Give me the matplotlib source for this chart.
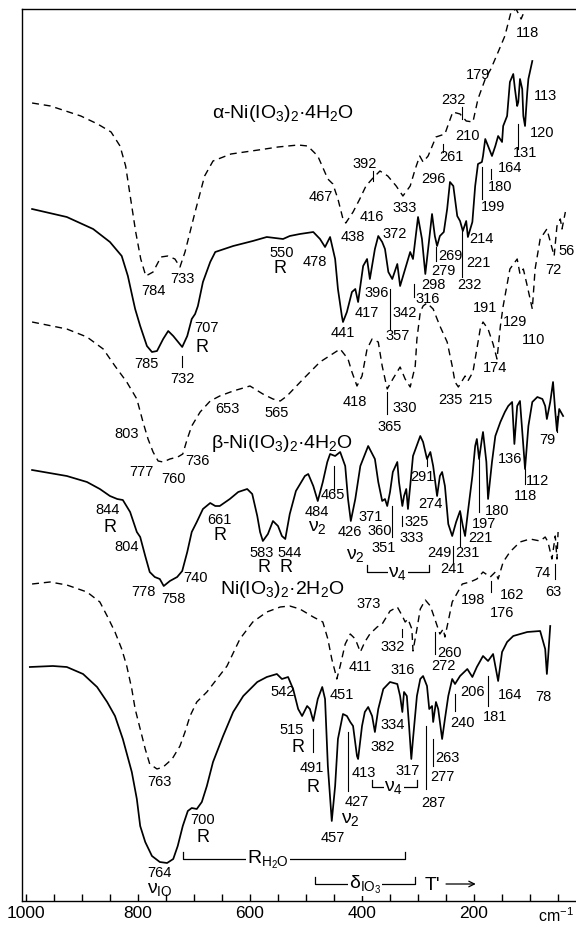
import matplotlib
matplotlib.use('Agg')
import matplotlib.pyplot as plt
from matplotlib.ticker import MultipleLocator

plt.rcParams['font.family'] = ['Liberation Sans', 'DejaVu Sans']
plt.rcParams['mathtext.fontset'] = 'custom'
plt.rcParams['mathtext.rm'] = 'Liberation Sans'
plt.rcParams['mathtext.it'] = 'Liberation Sans:italic'

# spectra as (wavenumber cm-1, trace level) ; trace level counts down from the top of the chart
alpha_raman = [(989, 104), (956, 107), (902, 117), (872, 125), (848, 133), (832, 147), (822, 167),
               (813, 200), (804, 233), (795, 260), (786, 277), (773, 273), (759, 258), (747, 257),
               (734, 260), (725, 268), (716, 253), (698, 213), (681, 177), (666, 162), (634, 155),
               (573, 150), (550, 148), (514, 146), (497, 147), (479, 157), (461, 180), (452, 185),
               (443, 200), (434, 220), (429, 224), (416, 213), (404, 200), (393, 187), (382, 180),
               (368, 172), (354, 177), (339, 187), (327, 197), (314, 187), (305, 170), (297, 157),
               (291, 163), (282, 157), (268, 138), (252, 135), (247, 127), (238, 113), (225, 115),
               (214, 122), (202, 123), (193, 100), (180, 80), (170, 70), (157, 53), (145, 37),
               (134, 13), (125, 10), (116, 20), (107, 8), (98, -5)]

alpha_ir = [(989, 210), (927, 218), (880, 230), (850, 243), (829, 257), (818, 277), (809, 300),
            (805, 310), (796, 327), (784, 347), (775, 353), (766, 352), (755, 340), (746, 332),
            (737, 337), (721, 348), (712, 337), (704, 320), (698, 315), (693, 307), (684, 283),
            (671, 263), (662, 253), (630, 247), (595, 242), (570, 238), (541, 240), (529, 237),
            (511, 235), (487, 233), (475, 240), (466, 248), (457, 238), (448, 260), (443, 290),
            (436, 317), (434, 323), (427, 313), (418, 293), (412, 290), (407, 303), (398, 267),
            (391, 260), (386, 280), (377, 250), (371, 237), (364, 243), (359, 250), (353, 273),
            (346, 280), (337, 265), (332, 287), (323, 270), (314, 253), (309, 260), (300, 218),
            (293, 240), (287, 275), (282, 250), (275, 215), (270, 237), (266, 247), (261, 237),
            (254, 233), (248, 210), (243, 183), (237, 187), (230, 217), (225, 222), (220, 232),
            (214, 222), (211, 238), (203, 223), (198, 187), (193, 165), (186, 163), (184, 157),
            (180, 140), (175, 147), (168, 157), (162, 147), (157, 137), (150, 143), (148, 127),
            (141, 117), (136, 83), (130, 75), (127, 90), (123, 107), (121, 103), (118, 80),
            (114, 90), (112, 117), (109, 127), (105, 93), (103, 80), (96, 62)]

beta_raman = [(989, 323), (927, 330), (891, 338), (862, 350), (841, 367), (820, 383), (802, 400),
              (791, 423), (782, 440), (773, 453), (764, 462), (755, 463), (743, 460), (729, 458),
              (720, 455), (712, 440), (704, 427), (689, 413), (671, 402), (654, 397), (630, 392),
              (600, 387), (577, 395), (559, 400), (546, 402), (534, 397), (505, 380), (475, 363),
              (439, 350), (425, 360), (418, 373), (409, 387), (400, 377), (391, 350), (382, 340),
              (371, 343), (364, 367), (355, 390), (345, 380), (332, 368), (323, 380), (314, 388),
              (305, 367), (302, 340), (296, 313), (291, 307), (284, 304), (273, 310), (261, 327),
              (248, 343), (239, 367), (234, 383), (228, 388), (216, 377), (211, 382), (202, 373),
              (195, 350), (189, 330), (184, 323), (175, 330), (166, 345), (159, 360), (153, 327),
              (148, 307), (136, 270), (123, 260), (118, 275), (112, 270), (105, 287), (96, 310),
              (91, 270), (82, 240), (70, 230), (57, 257), (52, 227), (46, 220), (43, 230), (37, 213)]

beta_ir = [(989, 471), (927, 477), (891, 483), (868, 490), (850, 497), (837, 500), (827, 501),
           (814, 513), (802, 533), (796, 538), (787, 557), (779, 573), (770, 578), (761, 580),
           (754, 587), (743, 582), (730, 578), (721, 572), (712, 553), (704, 533), (695, 523),
           (684, 510), (671, 504), (662, 507), (654, 507), (636, 500), (621, 493), (605, 490),
           (596, 495), (587, 517), (582, 533), (577, 542), (568, 535), (559, 522), (550, 527),
           (543, 537), (537, 540), (529, 515), (518, 492), (502, 477), (496, 475), (487, 487),
           (479, 502), (470, 483), (462, 463), (457, 455), (448, 457), (439, 453), (430, 467),
           (425, 500), (420, 522), (412, 500), (403, 467), (389, 447), (377, 460), (371, 483),
           (364, 502), (359, 500), (355, 507), (350, 493), (345, 473), (337, 463), (334, 483),
           (328, 507), (325, 497), (321, 490), (318, 510), (314, 487), (309, 457), (296, 437),
           (291, 443), (284, 460), (278, 453), (273, 467), (266, 497), (261, 477), (257, 473),
           (252, 487), (246, 525), (239, 537), (232, 523), (225, 512), (220, 527), (216, 537),
           (211, 513), (203, 477), (198, 447), (195, 440), (191, 460), (186, 440), (184, 433),
           (178, 463), (175, 500), (168, 463), (162, 437), (153, 423), (145, 413), (139, 407),
           (132, 403), (128, 445), (123, 407), (118, 402), (112, 447), (109, 470), (103, 427),
           (96, 403), (87, 398), (78, 400), (73, 407), (70, 420), (64, 403), (59, 383),
           (55, 413), (52, 432), (48, 410), (41, 417)]

dihydrate_raman = [(989, 585), (957, 583), (927, 586), (891, 593), (868, 603), (855, 617), (841, 633),
                   (829, 650), (820, 667), (811, 690), (805, 710), (796, 730), (787, 750), (779, 765),
                   (766, 770), (755, 768), (739, 760), (725, 747), (716, 733), (707, 717), (695, 703),
                   (677, 693), (659, 680), (641, 667), (618, 640), (595, 623), (570, 613), (546, 608),
                   (529, 607), (511, 610), (487, 618), (470, 623), (461, 640), (454, 660), (448, 673),
                   (445, 680), (439, 667), (430, 645), (421, 635), (412, 640), (403, 653), (395, 643),
                   (386, 635), (373, 628), (364, 625), (350, 612), (337, 608), (328, 617), (323, 623),
                   (318, 620), (311, 630), (309, 652), (302, 630), (296, 610), (287, 601), (278, 607),
                   (270, 620), (261, 635), (255, 630), (252, 638), (246, 622), (239, 603), (221, 585),
                   (207, 583), (195, 580), (184, 573), (171, 578), (162, 573), (157, 580), (148, 563),
                   (136, 553), (118, 543), (100, 540), (82, 542), (73, 538), (68, 543), (61, 560),
                   (55, 537), (52, 560), (50, 533)]

dihydrate_ir = [(993, 668), (952, 667), (927, 668), (898, 675), (873, 688), (855, 703), (841, 717),
                (827, 740), (811, 773), (802, 800), (796, 827), (787, 843), (775, 857), (761, 863),
                (748, 864), (737, 860), (729, 847), (720, 827), (711, 812), (704, 809), (695, 810),
                (686, 803), (677, 787), (666, 763), (648, 737), (630, 713), (612, 697), (587, 683),
                (570, 678), (552, 675), (543, 680), (532, 678), (523, 690), (514, 710), (507, 717),
                (498, 707), (493, 710), (487, 722), (479, 700), (471, 688), (466, 700), (461, 767),
                (454, 822), (448, 787), (443, 740), (434, 715), (427, 717), (421, 723), (416, 727),
                (409, 757), (407, 760), (400, 727), (395, 713), (389, 708), (382, 717), (377, 733),
                (371, 710), (362, 690), (350, 683), (337, 685), (332, 697), (328, 713), (325, 693),
                (320, 697), (316, 727), (312, 760), (309, 740), (302, 697), (296, 680), (291, 677),
                (284, 687), (280, 710), (275, 707), (273, 723), (268, 703), (264, 710), (257, 740),
                (252, 720), (246, 697), (239, 680), (234, 685), (225, 677), (212, 670), (203, 678),
                (195, 668), (184, 657), (175, 662), (166, 655), (157, 682), (150, 653), (141, 643),
                (130, 637), (105, 633), (82, 632), (73, 650), (70, 675), (68, 660), (64, 627)]

# peak labels: text, position (cm-1, level)
peak_labels = [
    ('118', 105, 33), ('179', 193, 75), ('232', 237, 100), ('210', 211, 136),
    ('261', 241, 157), ('113', 73, 96), ('120', 78, 133), ('131', 109, 153),
    ('164', 136, 168), ('180', 153, 187), ('199', 166, 207), ('296', 273, 179),
    ('392', 395, 164), ('467', 473, 197), ('333', 323, 208), ('416', 382, 217),
    ('438', 416, 237), ('372', 341, 234), ('478', 484, 262), ('550', 543, 253),
    ('214', 186, 239), ('269', 243, 256), ('221', 193, 263), ('396', 373, 293),
    ('279', 255, 271), ('298', 273, 285), ('232', 209, 285), ('316', 282, 299),
    ('417', 391, 313), ('342', 323, 313), ('441', 434, 333), ('357', 336, 336),
    ('191', 180, 308), ('129', 127, 322), ('110', 94, 340), ('174', 162, 368),
    ('72', 59, 270), ('56', 34, 251), ('785', 784, 364), ('732', 721, 379),
    ('707', 677, 328), ('784', 773, 291), ('733', 721, 279),
    ('803', 820, 434), ('653', 641, 409), ('565', 552, 413), ('777', 793, 472),
    ('760', 737, 479), ('736', 693, 461), ('418', 412, 402), ('365', 350, 427),
    ('330', 323, 408), ('235', 243, 400), ('215', 189, 400), ('844', 854, 510),
    ('804', 820, 547), ('778', 791, 592), ('758', 737, 599), ('740', 698, 578),
    ('661', 654, 520), ('583', 580, 553), ('544', 530, 553), ('79', 69, 440),
    ('136', 136, 459), ('112', 87, 481), ('118', 109, 496), ('180', 159, 511),
    ('465', 452, 495), ('291', 293, 477), ('484', 480, 512), ('274', 278, 504),
    ('371', 384, 517), ('325', 302, 522), ('197', 182, 524), ('426', 421, 532),
    ('360', 368, 531), ('221', 189, 538), ('333', 311, 538), ('351', 362, 548),
    ('249', 262, 553), ('231', 211, 553), ('241', 239, 569), ('74', 78, 573),
    ('63', 59, 592), ('198', 202, 600), ('162', 132, 595), ('176', 150, 613),
    ('373', 389, 604),
    ('332', 346, 647), ('260', 243, 653), ('411', 403, 667), ('316', 327, 670),
    ('272', 255, 666), ('451', 436, 695), ('542', 541, 692), ('206', 203, 692),
    ('164', 136, 695), ('78', 77, 697), ('181', 162, 717), ('515', 525, 730),
    ('334', 345, 725), ('240', 220, 723), ('382', 364, 747), ('263', 248, 758),
    ('491', 489, 768), ('413', 396, 773), ('317', 318, 771), ('277', 257, 777),
    ('427', 409, 802), ('287', 273, 803), ('457', 453, 838), ('763', 761, 782),
    ('700', 684, 820), ('764', 761, 873),
]

# band assignments
band_labels = [
    ('R', 546, 268, 13), ('R', 686, 347, 13), ('R', 850, 527, 13), ('R', 654, 536, 13),
    ('R', 575, 568, 13), ('R', 535, 568, 13), ('R', 514, 747, 13), ('R', 487, 787, 13),
    ('R', 684, 838, 13),
    ('ν$_2$', 480, 528, 14), ('ν$_2$', 412, 555, 14), ('ν$_2$', 421, 819, 14),
    ('ν$_{\\mathregular{IO}}$', 761, 890, 14),
    ("T'", 275, 885, 14),
]
# assignments sitting on a bracket line
bracket_labels = [
    ('ν$_4$', 336, 573), ('ν$_4$', 343, 788),
    ('R$_{\\mathregular{H_2O}}$', 568, 860),
    ('δ$_{\\mathregular{IO_3}}$', 395, 885),
]

compound_labels = [
    ('α-Ni(IO$_3$)$_2$·4H$_2$O', 541, 113),
    ('β-Ni(IO$_3$)$_2$·4H$_2$O', 543, 443),
    ('Ni(IO$_3$)$_2$·2H$_2$O', 543, 590),
]

# short peak marker lines: cm-1, level from, level to
peak_marks = [
    (380, 172, 182), (221, 108, 120), (255, 145, 153), (121, 125, 150), (170, 170, 180),
    (186, 168, 200), (268, 248, 262), (221, 230, 278), (307, 285, 298), (350, 290, 330),
    (721, 357, 368), (355, 393, 415), (450, 467, 492), (346, 507, 538), (328, 517, 527),
    (237, 547, 563), (225, 513, 547), (191, 460, 513), (109, 470, 485), (52, 417, 433),
    (284, 460, 467), (55, 565, 580), (170, 582, 593), (328, 630, 638), (270, 633, 655),
    (234, 695, 712), (175, 677, 707), (487, 730, 753), (425, 733, 792), (286, 727, 790),
    (273, 740, 767),
]

# brackets: left, right, level
brackets = [(391, 280, 573), (382, 302, 788), (484, 305, 885), (720, 323, 860)]

fig = plt.figure(figsize=(5.76, 9.29), dpi=100)
ax = fig.add_axes([22 / 576, 27 / 929, 554 / 576, 892 / 929])

for spec in [alpha_raman, beta_raman, dihydrate_raman]:
    wn, lev = zip(*spec)
    ax.plot(wn, lev, color='black', lw=1.0, linestyle=(0, (5, 3.5)))
for spec in [alpha_ir, beta_ir, dihydrate_ir]:
    wn, lev = zip(*spec)
    ax.plot(wn, lev, color='black', lw=1.25)

for x, y0, y1 in peak_marks:
    ax.plot([x, x], [y0, y1], color='black', lw=0.8)

for txt, x, y in peak_labels:
    ax.text(x, y, txt, fontsize=10.5, ha='center', va='center')
for txt, x, y, fs in band_labels:
    ax.text(x, y, txt, fontsize=fs, ha='center', va='center')
for txt, x, y in bracket_labels:
    ax.text(x, y, txt, fontsize=14, ha='center', va='center',
            bbox=dict(facecolor='white', edgecolor='none', pad=0.5))
for txt, x, y in compound_labels:
    ax.text(x, y, txt, fontsize=14, ha='center', va='center')

for x0, x1, y in brackets:
    ax.plot([x0, x0, x1, x1], [y - 7, y, y, y - 7], color='black', lw=0.9, zorder=1)
ax.annotate('', xy=(192, 885), xytext=(255, 885),
            arrowprops=dict(arrowstyle='->', lw=0.9, color='black'))

ax.set_xlim(1007, 18)
ax.set_ylim(902, 10)
ax.set_xticks([1000, 800, 600, 400, 200])
ax.xaxis.set_minor_locator(MultipleLocator(50))
ax.tick_params(axis='x', which='both', direction='in', length=5, width=1, labelsize=12.5, pad=3)
ax.set_yticks([])
ax.spines['right'].set_visible(False)
for s in ['top', 'bottom', 'left']:
    ax.spines[s].set_linewidth(1.0)
ax.text(86, 916, 'cm$^{-1}$', fontsize=11.5, ha='left', va='center', clip_on=False)

fig.savefig('out.png', dpi=100)
